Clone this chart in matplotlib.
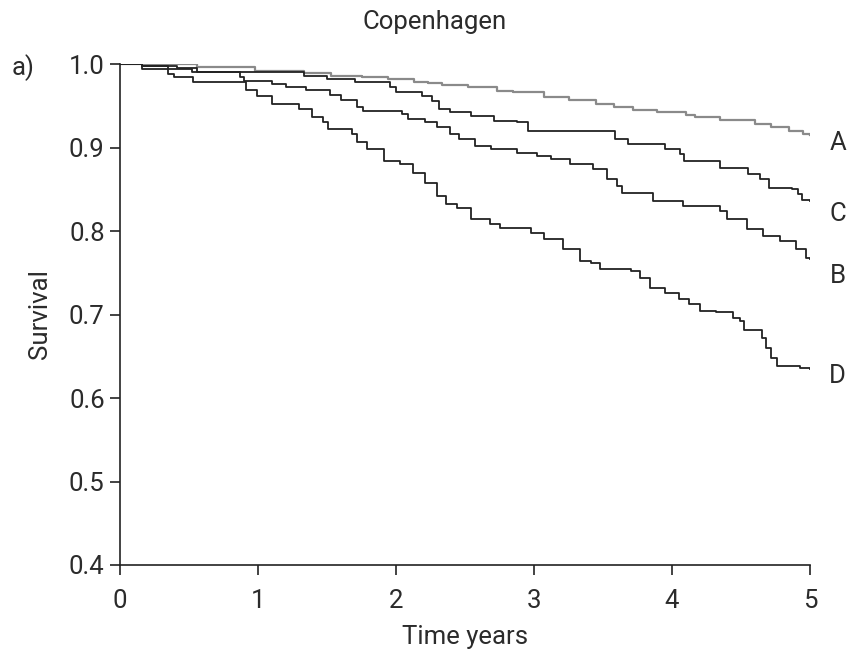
import matplotlib
matplotlib.use("Agg")
import matplotlib.pyplot as plt

# Kaplan-Meier step points (time in years, survival)
time_a = [0, 0.56, 0.98, 1.33, 1.53, 1.75, 1.94, 2.13, 2.23, 2.33, 2.52, 2.73,
          2.85, 3.07, 3.25, 3.45, 3.58, 3.72, 3.89, 4.10, 4.17, 4.35, 4.60,
          4.72, 4.85, 4.95, 5.0]
surv_a = [1.000, 0.997, 0.992, 0.989, 0.986, 0.984, 0.982, 0.979, 0.977, 0.975,
          0.972, 0.968, 0.966, 0.960, 0.957, 0.952, 0.948, 0.945, 0.942, 0.939,
          0.936, 0.933, 0.928, 0.924, 0.920, 0.916, 0.915]

time_c = [0, 0.16, 0.41, 0.56, 1.33, 1.50, 1.70, 1.96, 2.00, 2.19, 2.26, 2.31,
          2.39, 2.54, 2.71, 2.88, 2.96, 3.59, 3.68, 3.95, 4.06, 4.09, 4.35,
          4.55, 4.64, 4.70, 4.87, 4.91, 4.94, 5.0]
surv_c = [1.000, 0.998, 0.995, 0.990, 0.986, 0.982, 0.978, 0.972, 0.966, 0.962,
          0.956, 0.946, 0.942, 0.938, 0.932, 0.930, 0.920, 0.910, 0.904, 0.898,
          0.892, 0.884, 0.876, 0.868, 0.862, 0.852, 0.850, 0.844, 0.837, 0.836]

time_b = [0, 0.16, 0.35, 0.52, 0.87, 0.90, 1.10, 1.20, 1.35, 1.52, 1.60, 1.72,
          1.76, 2.04, 2.09, 2.21, 2.30, 2.39, 2.46, 2.57, 2.69, 2.88, 3.02,
          3.12, 3.26, 3.43, 3.53, 3.60, 3.64, 3.86, 4.08, 4.35, 4.40, 4.54,
          4.66, 4.78, 4.90, 4.97, 5.0]
surv_b = [1.000, 0.998, 0.994, 0.990, 0.984, 0.980, 0.976, 0.973, 0.969, 0.963,
          0.957, 0.949, 0.944, 0.940, 0.934, 0.930, 0.924, 0.916, 0.910, 0.902,
          0.898, 0.893, 0.890, 0.886, 0.880, 0.874, 0.862, 0.854, 0.846, 0.836,
          0.830, 0.824, 0.814, 0.802, 0.794, 0.788, 0.778, 0.768, 0.767]

time_d = [0, 0.16, 0.35, 0.39, 0.53, 0.91, 0.99, 1.10, 1.30, 1.39, 1.47, 1.51,
          1.68, 1.72, 1.79, 1.91, 2.03, 2.12, 2.21, 2.30, 2.36, 2.44, 2.54,
          2.68, 2.75, 2.98, 3.07, 3.21, 3.33, 3.41, 3.48, 3.70, 3.77, 3.84,
          3.95, 4.05, 4.12, 4.20, 4.32, 4.44, 4.49, 4.52, 4.65, 4.68, 4.72,
          4.76, 4.93, 5.0]
surv_d = [1.000, 0.994, 0.988, 0.984, 0.979, 0.969, 0.962, 0.952, 0.946, 0.936,
          0.930, 0.922, 0.916, 0.906, 0.898, 0.884, 0.880, 0.870, 0.858, 0.842,
          0.832, 0.828, 0.814, 0.808, 0.804, 0.798, 0.790, 0.778, 0.764, 0.762,
          0.754, 0.752, 0.744, 0.732, 0.726, 0.718, 0.712, 0.704, 0.703, 0.696,
          0.692, 0.682, 0.672, 0.660, 0.648, 0.638, 0.636, 0.635]

curve_labels = ["A", "C", "B", "D"]
label_y = [0.905, 0.820, 0.746, 0.626]

x_ticks = [0, 1, 2, 3, 4, 5]
y_ticks = [0.4, 0.5, 0.6, 0.7, 0.8, 0.9, 1.0]

plt.rcParams["font.family"] = ["Roboto", "DejaVu Sans"]
text_color = "#2b2b2b"
fs = 18.5

fig = plt.figure(figsize=(8.5, 6.52), dpi=100)
ax = fig.add_axes([120 / 850, 1 - 565 / 652, 690 / 850, 501 / 652])

ax.plot(time_a, surv_a, drawstyle="steps-post", color="#8a8a8a", lw=1.6)
ax.plot(time_c, surv_c, drawstyle="steps-post", color="#222222", lw=1.3)
ax.plot(time_b, surv_b, drawstyle="steps-post", color="#222222", lw=1.3)
ax.plot(time_d, surv_d, drawstyle="steps-post", color="#222222", lw=1.3)

for name, y in zip(curve_labels, label_y):
    ax.text(5.2, y, name, ha="center", va="center", fontsize=fs,
            color=text_color, clip_on=False)

ax.set_xlim(0, 5)
ax.set_ylim(0.4, 1.0)
ax.set_xticks(x_ticks)
ax.set_yticks(y_ticks)
ax.set_xticklabels([str(v) for v in x_ticks])
ax.set_yticklabels([f"{v:.1f}" for v in y_ticks])
ax.tick_params(direction="out", length=7, width=1.2, labelsize=fs,
               colors="#222222", labelcolor=text_color, pad=4)
ax.tick_params(axis="x", pad=10)

for side in ["top", "right"]:
    ax.spines[side].set_visible(False)
for side in ["left", "bottom"]:
    ax.spines[side].set_linewidth(1.2)
    ax.spines[side].set_color("#222222")

ax.set_xlabel("Time years", fontsize=fs, color=text_color, labelpad=9)
ax.set_ylabel("Survival", fontsize=fs, color=text_color, labelpad=12)

fig.text(435 / 850, 1 - 22 / 652, "Copenhagen", ha="center", va="center",
         fontsize=fs, color=text_color)
fig.text(12 / 850, 1 - 68 / 652, "a)", ha="left", va="center",
         fontsize=fs, color=text_color)

fig.savefig("out.png", dpi=100)
